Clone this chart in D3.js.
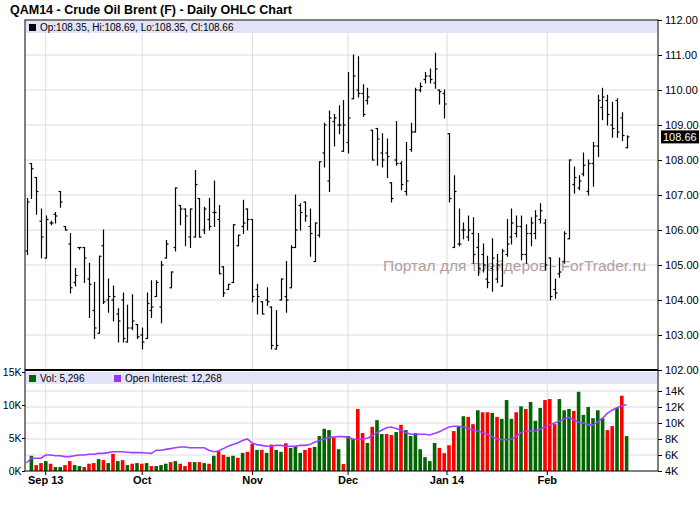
<!DOCTYPE html>
<html><head><meta charset="utf-8">
<script src="https://cdn.jsdelivr.net/npm/d3@7"></script>
<style>body{margin:0;background:#fff}svg{display:block;font-family:"Liberation Sans",Arial,sans-serif}</style>
</head><body><svg id="c" width="700" height="512"></svg>
<script>
const opens  = [105.4,107.9,107.5,106.25,105.2,106.2,106.45,107.1,106.1,105.6,104.5,105.5,105.5,104.6,103.7,103.05,105.55,104.0,104.0,103.6,104.0,102.8,103.2,103.3,103.0,102.9,103.7,104.1,103.8,105.2,104.35,105.5,106.7,106.6,105.8,105.8,106.9,106.0,106.3,106.5,106.3,104.95,104.3,104.5,105.55,106.1,106.6,106.3,104.3,103.95,104.0,103.8,102.6,104.0,104.1,104.35,105.5,106.7,106.8,106.1,105.1,105.85,108.2,107.4,109.1,109.0,108.25,108.5,109.75,110.0,109.9,109.7,108.85,108.9,108.2,108.2,107.35,108.0,107.9,107.1,108.3,108.8,110.0,110.3,110.4,110.2,110.0,109.9,108.75,105.5,105.6,106.0,105.8,105.9,105.5,105.3,104.6,104.9,104.6,104.4,105.3,105.8,105.9,106.1,105.3,105.9,105.9,106.3,106.2,105.2,104.3,104.75,105.1,105.75,107.3,107.2,107.6,107.1,107.9,108.4,109.5,109.7,109.0,109.7,109.2,108.35];
const highs  = [106.9,107.9,107.5,106.6,106.4,106.25,106.5,107.1,106.1,105.9,104.9,105.5,105.5,105.05,104.5,105.25,106.0,104.6,104.4,103.75,104.2,103.85,104.15,103.3,103.2,104.2,104.55,104.55,105.1,105.7,104.8,107.2,106.7,106.6,106.6,107.7,106.9,106.65,106.9,107.4,106.7,104.95,104.45,106.15,105.85,106.85,106.6,106.3,104.45,103.95,104.35,103.8,103.7,104.6,105.1,105.55,107.0,106.75,106.8,106.6,106.2,107.95,109.05,109.4,109.3,109.55,109.7,110.5,111.0,110.95,110.15,110.05,108.85,108.9,108.75,108.6,107.35,109.1,107.95,108.5,109.05,110.05,110.2,110.5,110.6,111.05,110.0,110.0,108.75,107.55,106.6,106.2,106.4,106.35,105.9,105.6,105.25,105.75,105.3,105.45,106.3,106.6,106.4,106.4,106.15,106.35,106.55,106.75,106.3,105.2,104.6,105.2,105.95,108.0,107.8,107.55,108.2,108.0,108.5,109.85,110.05,109.85,109.65,109.75,109.35,108.69];
const lows   = [105.3,106.9,106.45,105.2,105.2,106.15,106.2,106.65,106.0,104.2,104.4,105.45,104.5,103.5,102.9,103.05,103.9,103.65,103.4,102.8,102.8,102.8,103.15,102.9,102.6,102.9,103.5,104.1,103.35,105.2,104.35,105.4,106.15,105.55,105.5,105.8,105.8,105.9,106.0,106.1,104.75,104.1,104.3,104.5,105.55,105.9,106.0,103.95,103.6,103.6,103.85,102.6,102.6,104.0,103.65,104.35,105.5,106.0,106.25,105.25,105.1,105.8,107.8,107.1,108.4,108.75,108.25,108.2,109.75,109.8,109.25,109.6,108.0,107.85,107.8,107.5,106.8,107.85,107.15,107.0,108.25,108.8,109.95,110.2,110.2,110.05,109.6,109.2,106.8,105.5,105.55,105.75,105.7,105.05,104.7,104.8,104.35,104.25,104.5,104.4,105.25,105.6,105.8,105.15,105.05,105.55,105.75,106.2,104.85,104.0,104.05,104.65,105.05,105.75,107.05,107.15,107.55,107.0,107.25,108.1,109.15,109.0,108.65,108.65,108.55,108.35];
const closes = [106.8,107.75,107.1,105.8,106.3,106.2,106.4,106.8,106.0,104.35,104.7,105.5,105.2,104.45,103.2,105.25,103.95,104.1,104.1,103.4,102.9,103.2,103.4,102.95,102.8,103.9,103.8,104.5,105.0,105.6,104.8,107.2,106.6,106.4,106.6,107.3,105.8,106.6,106.1,106.5,104.75,104.2,104.45,106.15,105.85,106.2,106.3,104.1,104.1,103.6,103.95,102.7,102.7,104.6,104.0,105.5,106.0,106.5,106.4,105.9,106.2,107.95,109.0,109.2,109.2,109.0,109.0,109.2,110.4,109.9,109.3,109.8,108.0,108.6,108.0,108.1,106.9,107.9,107.3,107.4,108.8,110.0,110.1,110.4,110.3,110.6,109.95,109.6,106.9,107.1,105.6,106.0,106.0,105.3,104.9,105.0,104.5,105.2,105.0,105.4,105.6,106.2,106.1,105.3,105.9,106.2,106.4,106.55,105.0,104.1,104.2,104.8,105.9,108.0,107.5,107.4,107.85,107.9,108.4,109.7,109.8,109.3,108.9,108.8,108.7,108.66];
const volumes = [0,2.3,0.9,1.2,1.5,1.1,0.6,0.6,0.9,1.5,0.9,0.75,0.6,1.1,1.2,1.8,1.65,1.2,2.6,1.5,1.65,0.9,1.1,1.2,1.1,1.2,0.75,0.75,0.9,1.1,1.35,1.5,1.1,0.75,1.35,1.35,1.35,1.2,1.1,2.3,3.0,2.45,2.15,2.3,2.0,2.75,2.9,4.1,3.2,3.2,2.75,4.0,3.2,2.9,4.2,3.5,3.8,2.75,3.2,3.5,3.65,5.3,6.4,6.2,5.1,
3.3,1.05,5.3,4.85,9.4,5.75,4.25,6.7,7.7,5.6,5.6,5.45,5.9,7.0,6.2,5.3,5.75,3.3,2.1,1.5,4.25,3.5,2.7,3.9,6.05,6.8,8.3,8.2,7.1,9.2,8.9,8.9,8.8,8.2,7.9,10.75,7.9,8.9,9.8,9.4,10.45,7.6,9.55,10.75,10.9,7.1,10.9,9.2,9.4,9.1,12.0,8.5,9.7,8.0,9.2,8.0,6.2,6.8,9.55,11.4,5.296];
const volUp = ["-","GRRGRGGRRG","GRRRGRGRGR","GRGRGRGGGR","GRRRGRGRGR","RGGRGRRGRG","RGGRGGGRRG","GGGR",
  "GRGGRRGRGG","RRGRGGGGGG","GRRRRGGRRG","RRGRGGGRGR","GGGRRRGGGR","GGGGGGRRGR","G"].join("").split("");
const openInt = [5.0,5.6,5.6,5.6,6.0,6.0,5.9,5.9,5.8,5.8,5.9,6.0,6.0,6.1,6.1,6.2,6.2,6.3,6.4,6.4,6.4,6.35,6.3,6.3,6.3,6.25,6.2,6.6,6.6,6.7,6.8,6.9,7.0,7.0,6.9,6.9,6.9,6.9,6.6,6.4,6.5,6.8,7.1,7.3,7.5,7.8,8.0,7.5,7.3,7.2,7.1,7.1,7.2,7.2,7.1,7.1,7.1,7.2,7.2,7.3,7.6,7.8,8.0,8.2,8.25,8.3,8.3,8.2,8.0,7.9,8.0,8.1,8.4,8.8,9.1,9.4,9.5,9.3,9.1,8.8,8.6,8.6,8.6,8.6,8.5,8.7,8.9,9.2,9.5,9.6,9.6,9.5,9.3,9.1,9.0,8.8,8.6,8.3,8.0,7.9,7.9,8.0,8.3,8.8,9.0,9.0,9.0,9.2,9.5,9.75,10.0,10.25,10.5,10.7,10.4,10.1,10.0,9.8,9.75,10.1,10.6,11.2,11.6,11.9,12.15,12.27];
const monthLabels = ["Sep 13","Oct","Nov","Dec","Jan 14","Feb"];
const monthPos = [4,24.1,47.1,67.0,87.6,108.5];
const priceTicks = [102,103,104,105,106,107,108,109,110,111,112];
const volTicks = [0,5,10,15];
const oiTicks = [4,6,8,10,12,14];

const svg = d3.select("#c");
const L=25, R=658, PT=20, PB=370, VB=471;
const x = d3.scaleLinear().domain([0,125]).range([26.5,626.5]);
const y = d3.scaleLinear().domain([102,112]).range([PB,PT]);
const yv = d3.scaleLinear().domain([0,15]).range([VB,372]);
const yo = d3.scaleLinear().domain([4,14]).range([VB,391]);
const grid="#dcdcdc";

svg.append("text").attr("x",10).attr("y",14).attr("font-size",12.5).attr("font-weight","bold").text("QAM14 - Crude Oil Brent (F) - Daily OHLC Chart");

svg.append("g").selectAll("line").data(priceTicks.slice(1,-1)).join("line")
 .attr("x1",L).attr("x2",R).attr("y1",d=>y(d)).attr("y2",d=>y(d)).attr("stroke",grid);
svg.append("g").selectAll("line").data(oiTicks.slice(1)).join("line")
 .attr("x1",L).attr("x2",R).attr("y1",d=>yo(d)).attr("y2",d=>yo(d)).attr("stroke",grid);
svg.append("g").selectAll("line").data(monthPos).join("line")
 .attr("x1",d=>x(d)).attr("x2",d=>x(d)).attr("y1",PT).attr("y2",VB).attr("stroke",grid);

svg.append("rect").attr("x",L+1).attr("y",PT+1).attr("width",R-L-2).attr("height",12).attr("fill","#e4e4f8");
svg.append("rect").attr("x",29).attr("y",24).attr("width",7).attr("height",7).attr("fill","#000");
svg.append("text").attr("x",40).attr("y",31).attr("font-size",10).text("Op:108.35, Hi:108.69, Lo:108.35, Cl:108.66");
svg.append("rect").attr("x",L+1).attr("y",PB+2).attr("width",R-L-2).attr("height",12).attr("fill","#e4e4f8");
svg.append("rect").attr("x",29).attr("y",375).attr("width",7).attr("height",7).attr("fill","#006600");
svg.append("text").attr("x",40).attr("y",382).attr("font-size",10).text("Vol: 5,296");
svg.append("rect").attr("x",114).attr("y",375).attr("width",7).attr("height",7).attr("fill","#9933ff");
svg.append("text").attr("x",125).attr("y",382).attr("font-size",10).text("Open Interest: 12,268");

svg.append("text").attr("x",383).attr("y",271).attr("font-size",15.5).attr("fill","#a08888").attr("opacity",0.8).text("Портал для трейдеров - ForTrader.ru");

svg.append("g").selectAll("rect").data(volumes).join("rect")
 .attr("x",(d,i)=>x(i)-1.7).attr("width",3.6).attr("y",d=>yv(d)).attr("height",d=>VB-yv(d))
 .attr("fill",(d,i)=>volUp[i]==="G"?"#006600":"#ff0000");
svg.append("path").datum(openInt).attr("fill","none").attr("stroke","#a040ff").attr("stroke-width",1.6)
 .attr("d",d3.line().x((d,i)=>x(i)).y(d=>yo(d)));

const g=svg.append("g").attr("stroke","#000").attr("stroke-width",1.2);
opens.forEach((o,i)=>{
  const cx=Math.round(x(i))+0.5;
  g.append("line").attr("x1",cx).attr("x2",cx).attr("y1",y(highs[i])-0.5).attr("y2",y(lows[i])+0.5);
  g.append("line").attr("x1",cx-2).attr("x2",cx).attr("y1",y(o)).attr("y2",y(o));
  g.append("line").attr("x1",cx).attr("x2",cx+2).attr("y1",y(closes[i])).attr("y2",y(closes[i]));
});

svg.append("rect").attr("x",L).attr("y",PT).attr("width",R-L).attr("height",VB-PT).attr("fill","none").attr("stroke","#000");
svg.append("line").attr("x1",L).attr("x2",R).attr("y1",PB).attr("y2",PB).attr("stroke","#000").attr("stroke-width",2);

const ra=svg.append("g").attr("transform",`translate(${R},0)`);
ra.call(d3.axisRight(y).tickValues(priceTicks).tickFormat(d3.format(".2f")).tickSize(4).tickSizeOuter(0));
ra.append("g").call(d3.axisRight(yo).tickValues(oiTicks).tickFormat(d=>d+"K").tickSize(4).tickSizeOuter(0));
ra.selectAll("path.domain").remove();
ra.selectAll("text").attr("font-size",11).attr("fill","#000").attr("font-family","Liberation Sans, Arial");
svg.append("rect").attr("x",R+3).attr("y",y(108.66)-6.5).attr("width",38).attr("height",13).attr("fill","#000");
svg.append("text").attr("x",R+5).attr("y",y(108.66)+4).attr("font-size",11).attr("fill","#fff").text("108.66");

const la=svg.append("g").attr("transform",`translate(${L},0)`)
 .call(d3.axisLeft(yv).tickValues(volTicks).tickFormat(d=>d+"K").tickSize(3).tickSizeOuter(0));
la.select("path.domain").remove();
la.selectAll("text").attr("font-size",10.5).attr("fill","#000").attr("font-family","Liberation Sans, Arial").attr("x",-3.5);

svg.append("g").selectAll("text").data(monthLabels).join("text")
 .attr("x",(d,i)=>x(monthPos[i])).attr("y",484).attr("text-anchor","middle")
 .attr("font-size",11).attr("font-weight","bold").text(d=>d);
svg.append("g").selectAll("line").data(monthPos).join("line")
 .attr("x1",d=>x(d)).attr("x2",d=>x(d)).attr("y1",VB).attr("y2",VB+4).attr("stroke","#000");
</script></body></html>
